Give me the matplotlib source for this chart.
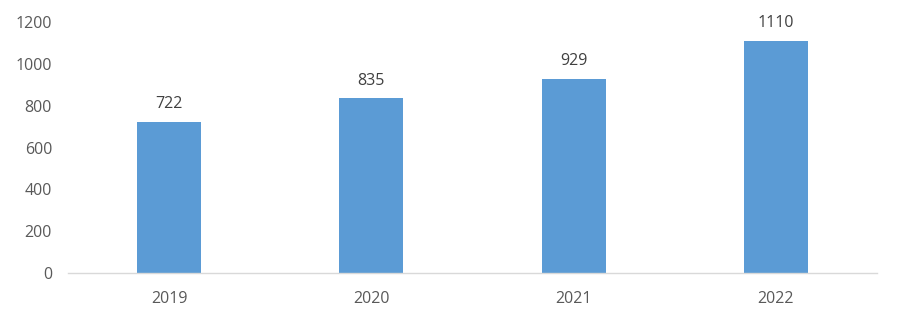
import matplotlib.pyplot as plt

# Data
years = ['2019', '2020', '2021', '2022']
values = [722, 835, 929, 1110]
y_ticks = [0, 200, 400, 600, 800, 1000, 1200]

bar_color = '#5B9BD5'
text_color = '#595959'

plt.rcParams['font.family'] = ['Open Sans', 'DejaVu Sans']

fig = plt.figure(figsize=(9, 3.22), dpi=100)
ax = fig.add_axes([68 / 900, 1 - 273 / 322, (877 - 68) / 900, (273 - 22) / 322])

x = range(len(years))
bars = ax.bar(x, values, width=0.317, color=bar_color)

# Value labels above each bar
for xi, v in zip(x, values):
    ax.annotate(str(v), (xi, v), xytext=(0, 7), textcoords='offset points',
                ha='center', va='bottom', fontsize=11.5, color='#404040')

ax.set_xlim(-0.5, len(years) - 0.5)
ax.set_ylim(0, 1200)
ax.set_yticks(y_ticks)
ax.set_xticks(list(x))
ax.set_xticklabels(years)
ax.tick_params(axis='both', length=0, labelsize=11.5, colors=text_color)
ax.tick_params(axis='y', pad=11.5)
ax.tick_params(axis='x', pad=13)

for side in ['top', 'right', 'left']:
    ax.spines[side].set_visible(False)
ax.spines['bottom'].set_color('#D9D9D9')
ax.spines['bottom'].set_linewidth(1)

fig.savefig('out.png', dpi=100)
